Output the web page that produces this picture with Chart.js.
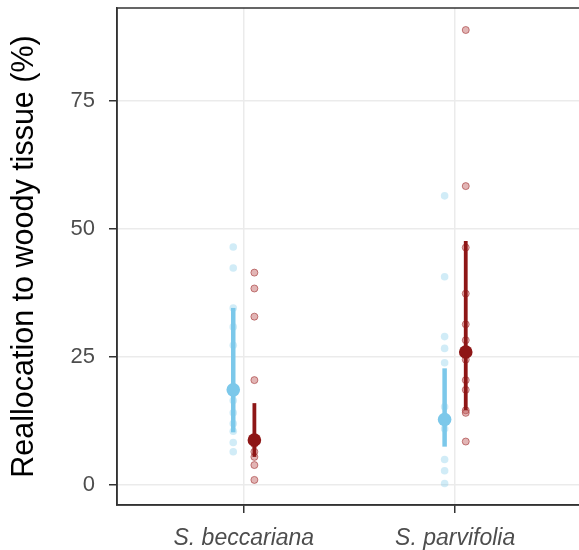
<!DOCTYPE html>
<html>
<head>
<meta charset="utf-8">
<script src="https://cdn.jsdelivr.net/npm/chart.js@4"></script>
<style>
html,body{margin:0;padding:0;background:#fff;overflow:hidden;}
#wrap{width:590px;height:550px;position:relative;}
</style>
</head>
<body>
<div id="wrap"><canvas id="c"></canvas></div>
<script>
// ---- data ----
const categories = ['S. beccariana', 'S. parvifolia'];
const yTicks = [0, 25, 50, 75];

// light blue group: individual values per category
const blueRaw = [
  [46.5, 42.4, 34.6, 30.9, 27.3, 16.5, 14.1, 12.0, 10.5, 8.3, 6.5],
  [56.5, 40.7, 29.0, 26.7, 23.9, 15.3, 11.0, 5.0, 2.8, 0.3]
];
const blueMean = [18.6, 12.8];
const blueLow  = [10.3, 7.5];
const blueHigh = [34.6, 22.8];

// dark red group
const redRaw = [
  [41.5, 38.4, 32.9, 20.5, 8.0, 6.5, 5.5, 3.9, 1.0],
  [88.9, 58.4, 46.4, 37.4, 31.4, 28.3, 24.5, 20.5, 18.6, 14.6, 14.1, 8.5]
];
const redMean = [8.8, 26.0];
const redLow  = [5.5, 14.6];
const redHigh = [16.0, 47.7];

// ---- styling / layout ----
const DODGE = 0.05;
const BLUE = '#7cc8ea';
const BLUE_PT = 'rgba(135,206,235,0.38)';
const RED = '#8e1616';
const RED_PT = 'rgba(190,90,90,0.45)';
const RED_PT_BORDER = 'rgba(160,50,50,0.6)';
const FONT = 'Liberation Sans, Arial, sans-serif';

function rawPoints(raw, off) {
  const pts = [];
  raw.forEach((vals, i) => vals.forEach(v => pts.push({x: i + 1 + off, y: v})));
  return pts;
}

const datasets = [];
categories.forEach((c, i) => {
  datasets.push({type:'line', data:[{x:i+1-DODGE,y:blueLow[i]},{x:i+1-DODGE,y:blueHigh[i]}],
    borderColor:BLUE, borderWidth:4.5, pointRadius:0, borderCapStyle:'butt', order:1});
  datasets.push({type:'line', data:[{x:i+1+DODGE,y:redLow[i]},{x:i+1+DODGE,y:redHigh[i]}],
    borderColor:RED, borderWidth:3.8, pointRadius:0, borderCapStyle:'butt', order:1});
});
datasets.push({type:'scatter', data: blueMean.map((v,i)=>({x:i+1-DODGE,y:v})),
  backgroundColor:BLUE, borderColor:BLUE, pointRadius:6.8, borderWidth:0, order:0});
datasets.push({type:'scatter', data: redMean.map((v,i)=>({x:i+1+DODGE,y:v})),
  backgroundColor:RED, borderColor:RED, pointRadius:6.8, borderWidth:0, order:0});
datasets.push({type:'scatter', data: rawPoints(blueRaw, -DODGE),
  backgroundColor:BLUE_PT, borderColor:'rgba(0,0,0,0)', pointRadius:3.8, borderWidth:0, order:2});
datasets.push({type:'scatter', data: rawPoints(redRaw, DODGE),
  backgroundColor:RED_PT, borderColor:RED_PT_BORDER, pointRadius:3.5, borderWidth:1, order:2});

const panelBorder = {
  id:'panelBorder',
  afterDraw(chart){
    const a = chart.chartArea, ctx = chart.ctx;
    ctx.save();
    ctx.strokeStyle = '#333';
    ctx.lineWidth = 1.5;
    ctx.strokeRect(a.left, a.top, a.right - a.left, a.bottom - a.top);
    ctx.restore();
  }
};

new Chart(document.getElementById('c'), {
  type: 'scatter',
  data: { datasets },
  plugins: [panelBorder],
  options: {
    responsive: true,
    maintainAspectRatio: false,
    animation: false,
    layout: { padding: { top: 8, right: 8, left: 0, bottom: 0 } },
    plugins: { legend: { display: false }, tooltip: { enabled: false } },
    scales: {
      x: {
        type: 'linear', min: 0.4, max: 2.6,
        afterBuildTicks(s){ s.ticks = categories.map((c,i)=>({value:i+1})); },
        afterFit(s){ s.height = 45; s.paddingLeft = 0; s.paddingRight = 0; },
        ticks: {
          callback: (v) => categories[Math.round(v) - 1] || '',
          font: { family: FONT, size: 23, style: 'italic' },
          color: '#4d4d4d', padding: 12, autoSkip: false, maxRotation: 0
        },
        grid: { color: '#ebebeb', lineWidth: 1.5, tickColor: '#333', tickLength: 8, tickWidth: 1.5 },
        border: { display: true, color: '#333', width: 1.5 }
      },
      y: {
        min: -3.9, max: 93.2,
        afterBuildTicks(s){ s.ticks = yTicks.map(v=>({value:v})); },
        afterFit(s){ s.width = 117; s.paddingTop = 0; s.paddingBottom = 0; },
        ticks: {
          font: { family: FONT, size: 22 },
          color: '#4d4d4d', padding: 14
        },
        grid: { color: '#ebebeb', lineWidth: 1.5, tickColor: '#333', tickLength: 8, tickWidth: 1.5 },
        border: { display: true, color: '#333', width: 1.5 },
        title: {
          display: true, text: 'Reallocation to woody tissue (%)',
          font: { family: FONT, size: 30.5 },
          color: '#000', padding: { top: 6, bottom: 0 }
        }
      }
    }
  }
});
</script>
</body>
</html>
